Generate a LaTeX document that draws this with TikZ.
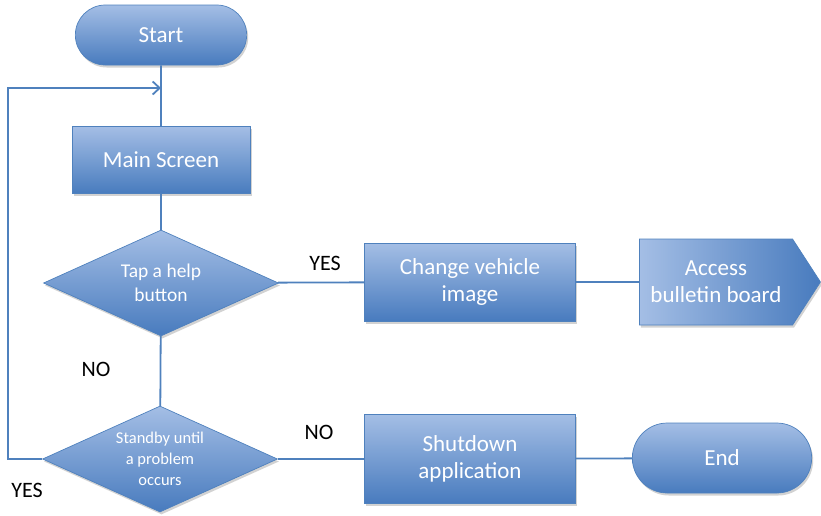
\documentclass[tikz,border=0pt]{standalone}
\usepackage{fontspec}
\setmainfont{Carlito}
\usetikzlibrary{shapes.geometric, shapes.misc, shapes.symbols, arrows.meta, shadows}

\definecolor{boxtop}{RGB}{164,190,229}
\definecolor{boxbottom}{RGB}{72,123,190}
\definecolor{flowline}{RGB}{79,129,189}

\begin{document}
\begin{tikzpicture}[x=1pt, y=-1pt,
    base/.style={draw=flowline, line width=0.7pt, top color=boxtop, bottom color=boxbottom,
        text=white, align=center, font=\fontsize{23}{27}\selectfont,
        drop shadow={shadow xshift=1.5pt, shadow yshift=-2.5pt, opacity=0.25, fill=black!70}},
    term/.style={base, rounded rectangle},
    process/.style={base, rectangle, minimum width=211pt},
    decision/.style={base, diamond, aspect=2.2, inner sep=0pt, minimum width=235pt, minimum height=106pt},
    link/.style={draw=flowline, line width=1.8pt},
    answer/.style={font=\fontsize{22}{26}\selectfont}
]
    \useasboundingbox (0,0) rectangle (821,515);

    % main column
    \node[term, minimum width=178pt, minimum height=60pt] (start) at (161,35) {Start};
    \node[process, minimum width=178pt, minimum height=67pt] (main) at (161,160) {Main Screen};
    \node[decision, font=\fontsize{19.5}{24}\selectfont] (help) at (161,283) {Tap a help\\button};
    \node[decision, font=\fontsize{16.5}{21}\selectfont] (standby) at (160,459) {Standby until\\a problem\\occurs};

    % right branches
    \node[process, minimum height=78pt] (vehicle) at (470,282) {Change vehicle\\image};
    \node[base, signal, signal to=east, signal pointer angle=114, left color=boxtop, right color=boxbottom,
        minimum width=181pt, minimum height=86pt] (board) at (716,282) {Access\\bulletin board};
    \node[process, minimum height=89pt] (shutdown) at (470,459) {Shutdown\\application};
    \node[term, minimum width=186pt, minimum height=70pt] (end) at (722,458) {End};

    \draw[link] (start) -- (main);
    \draw[link] (main) -- (help);
    \draw[link] (help) -- (standby);
    \draw[link] (help) -- (vehicle);
    \draw[link] (vehicle) -- (board);
    \draw[link] (standby) -- (shutdown);
    \draw[link] (shutdown) -- (end);

    % loop back to the main screen
    \coordinate (merge) at (161,88);
    \coordinate (corner) at (8,459);
    \draw[link, -{Straight Barb[length=7pt, width=13pt]}] (standby.west) -- (corner) |- (merge);

    \node[answer] (yes1) at (325,263) {YES};
    \node[answer] (no1) at (96,369) {NO};
    \node[answer] (no2) at (319,432) {NO};
    \node[answer] (yes2) at (27,490) {YES};
\end{tikzpicture}
\end{document}
